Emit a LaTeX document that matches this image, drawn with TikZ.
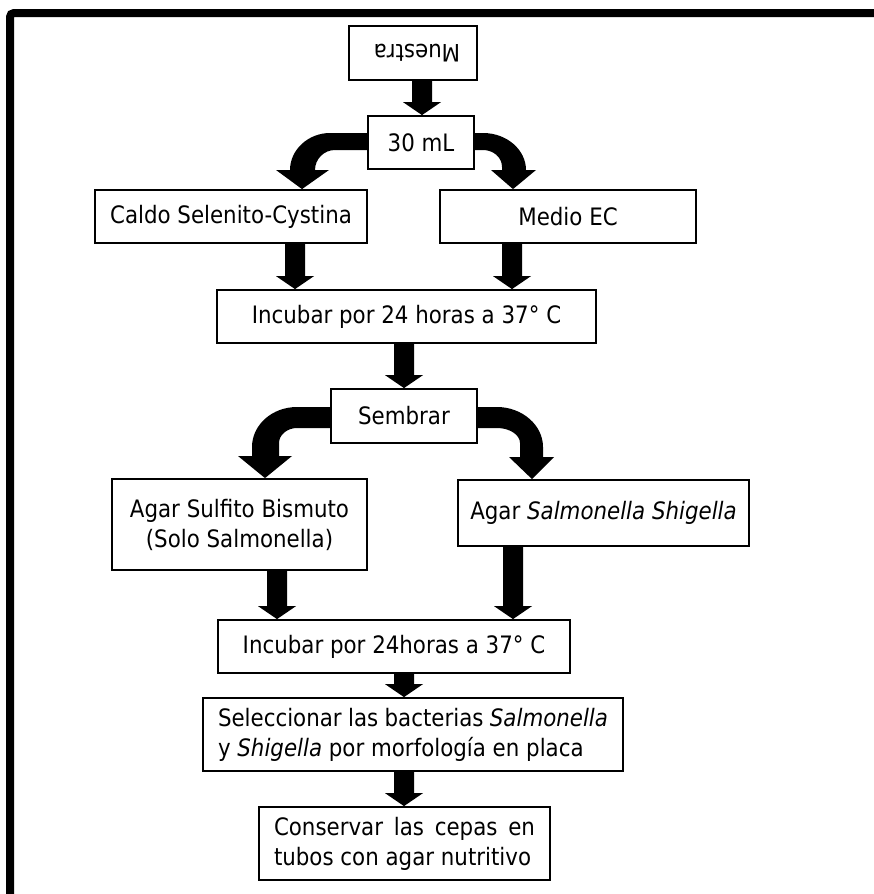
\documentclass[tikz,border=0pt]{standalone}
\usepackage{fontspec}
\setmainfont[FakeStretch=0.89]{DejaVu Sans}
\usetikzlibrary{calc}

% downward block arrow from the bottom of one box to the top of another
\newcommand\blkdown[3]{%
  \fill[blk] let \p1=(#2.south), \p2=(#3.north) in
    (#1pt-10pt,\y1) -- (#1pt+10pt,\y1) -- (#1pt+10pt,\y2+13pt)
    -- (#1pt+19pt,\y2+13pt) -- (#1pt,\y2) -- (#1pt-19pt,\y2+13pt)
    -- (#1pt-10pt,\y2+13pt) -- cycle;}

\tikzset{
  box/.style={draw=black, line width=1.8pt, fill=white, inner sep=0pt,
    align=center, font=\fontsize{24}{30}\selectfont},
  blk/.style={fill=black},
}

\begin{document}
\begin{tikzpicture}[x=1pt, y=-1pt]
\useasboundingbox (0,0) rectangle (874,894);
\clip (0,0) rectangle (874,894);

% outer frame (top and left edges)
\draw[line width=8pt, rounded corners=4pt] (10,910) -- (10,13) -- (890,13);

% boxes
\node[box, minimum width=128pt, minimum height=54pt] (muestra) at (413,53)
  {\hspace*{8pt}\rotatebox[origin=c]{180}{Muestra}};
\node[box, minimum width=106pt, minimum height=53pt] (thirty) at (421,142.5) {30 mL};
\node[box, minimum width=272pt, minimum height=53pt] (caldo) at (231,216.5) {Caldo Selenito-Cystina};
\node[box, minimum width=256pt, minimum height=53pt] (medio) at (568,216.5) {Medio EC};
\node[box, minimum width=379pt, minimum height=53pt] (incub1) at (406.5,316.5) {Incubar por 24 horas a 37° C};
\node[box, minimum width=146pt, minimum height=54pt] (sembrar) at (404,416) {Sembrar};
\node[box, minimum width=255pt, minimum height=91pt] (sulfito) at (239.5,524.5) {Agar Sulfito Bismuto\\(Solo Salmonella)};
\node[box, minimum width=291pt, minimum height=66pt] (agarss) at (603.5,513) {Agar \textit{Salmonella Shigella}};
\node[box, minimum width=352pt, minimum height=53pt] (incub2) at (394,646.5) {Incubar por 24horas a 37° C};
\node[box, minimum width=420pt, minimum height=73pt, align=left] (selecc) at (413,734.5)
  {\makebox[390pt][s]{Seleccionar las bacterias \textit{Salmonella}}\\y \textit{Shigella} por morfología en placa};
\node[box, minimum width=291pt, minimum height=73pt, align=left] (conserv) at (404.5,843.5)
  {\makebox[261pt][s]{Conservar las cepas en}\\tubos con agar nutritivo};

% straight block arrows
\blkdown{422}{muestra}{thirty}
\blkdown{295}{caldo}{incub1}
\blkdown{512}{medio}{incub1}
\blkdown{404}{incub1}{sembrar}
\blkdown{277}{sulfito}{incub2}
\blkdown{513}{agarss}{incub2}
\blkdown{404}{incub2}{selecc}
\blkdown{404}{selecc}{conserv}

% curved block arrows out of "30 mL"
\fill[blk] ($(thirty.west)+(0,-9.5)$) -- (330,133) .. controls (308,133) and (290,150) .. (290,170)
  -- (276,170) -- ($(caldo.north)+(71,0)$) -- (329,170) -- (315,170)
  .. controls (315,159) and (324,150) .. (335,150) -- ($(thirty.west)+(0,7.5)$) -- cycle;
\fill[blk] ($(thirty.east)+(0,-9.5)$) -- (483,133) .. controls (507,133) and (526,150) .. (526,170)
  -- (536,170) -- ($(medio.north)+(-55,0)$) -- (491,170) -- (502,170) -- (502,167)
  .. controls (502,157) and (493,150) .. (483,150) -- ($(thirty.east)+(0,7.5)$) -- cycle;

% curved block arrows out of "Sembrar"
\fill[blk] ($(sembrar.west)+(0,-9)$) -- (297,407) .. controls (272,407) and (252,425) .. (252,447)
  -- (252,456) -- (238,456) -- ($(sulfito.north)+(25.5,0)$) -- (292,456) -- (279,456) -- (279,443)
  .. controls (279,435) and (287,428) .. (297,428) -- ($(sembrar.west)+(0,12)$) -- cycle;
\fill[blk] ($(sembrar.east)+(0,-9)$) -- (497,407) .. controls (522,407) and (543,425) .. (543,447)
  -- (543,457) -- (554,457) -- ($(agarss.north)+(-71.5,0)$) -- (509,457) -- (520,457) -- (520,443)
  .. controls (520,435) and (510,428) .. (497,428) -- ($(sembrar.east)+(0,12)$) -- cycle;
\end{tikzpicture}
\end{document}
